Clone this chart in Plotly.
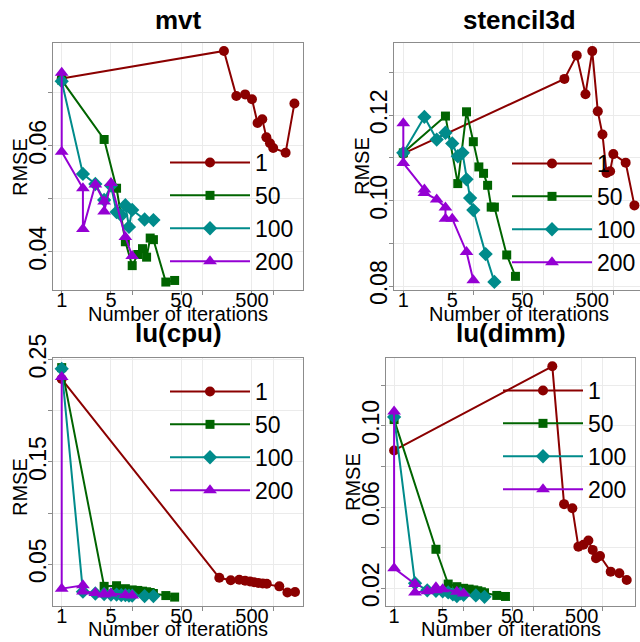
import plotly.graph_objects as go

# ---------------- data ----------------
series_names = ["1", "50", "100", "200"]
colors = ["#8B0000", "#006400", "#008B8B", "#9400D3"]
symbols = ["circle", "square", "diamond", "triangle-up"]
marker_sizes = [10, 9, 11, 12]

iters_50 = [1, 4, 6, 8, 10, 12, 14, 16, 18, 20, 30, 40]
iters_100 = [1, 2, 3, 4, 5, 6, 7, 8, 9, 10, 15, 20]
iters_200 = [1, 1, 2, 2, 3, 4, 4, 5, 8, 10]
iters_1 = [1, 200, 300, 400, 500, 600, 700, 800, 900, 1000, 1500, 2000]

# mvt
mvt_1 = [0.0727, 0.0779, 0.0694, 0.0697, 0.0688, 0.0643, 0.0650, 0.0616, 0.0605, 0.0596, 0.0587, 0.0680]
mvt_50 = [0.0724, 0.0612, 0.0520, 0.0419, 0.0374, 0.0395, 0.0406, 0.0390, 0.0426, 0.0423, 0.0343, 0.0346]
mvt_100 = [0.0722, 0.0547, 0.0528, 0.0498, 0.0525, 0.0475, 0.0469, 0.0488, 0.0447, 0.0479, 0.0461, 0.0460]
mvt_200 = [0.0738, 0.0589, 0.0520, 0.0443, 0.0527, 0.0495, 0.0476, 0.0530, 0.0428, 0.0392]

# stencil3d
st_1 = [0.1110, 0.1285, 0.1340, 0.1249, 0.1350, 0.1209, 0.1155, 0.1065, 0.1069, 0.1109, 0.1089, 0.0989]
st_50 = [0.1112, 0.1198, 0.1040, 0.1208, 0.1138, 0.1079, 0.1064, 0.1036, 0.0985, 0.0985, 0.0873, 0.0823]
st_100 = [0.1112, 0.1196, 0.1143, 0.1159, 0.1134, 0.1104, 0.1112, 0.1050, 0.1006, 0.0978, 0.0875, 0.0810]
st_200 = [0.1181, 0.1088, 0.1026, 0.1018, 0.1003, 0.0984, 0.0958, 0.0958, 0.0880, 0.0814]

# lu(cpu)
cpu_iters_1 = [1, 172, 250, 330, 400, 470, 535, 615, 710, 810, 1220, 1590, 2040]
cpu_1 = [0.2310, 0.0369, 0.0345, 0.0350, 0.0340, 0.0333, 0.0326, 0.0318, 0.0312, 0.0310, 0.0285, 0.0225, 0.0230]
cpu_50 = [0.2422, 0.0285, 0.0291, 0.0262, 0.0250, 0.0245, 0.0238, 0.0232, 0.0225, 0.0215, 0.0195, 0.0180]
cpu_100 = [0.2410, 0.0233, 0.0215, 0.0210, 0.0205, 0.0205, 0.0200, 0.0200, 0.0195, 0.0195, 0.0190, 0.0190]
cpu_200 = [0.2330, 0.0262, 0.0295, 0.0235, 0.0220, 0.0212, 0.0205, 0.0215, 0.0200, 0.0195]

# lu(dimm)
dimm_iters_1 = [1, 189, 279, 367, 448, 529, 624, 720, 804, 918, 1307, 1741, 2223]
dimm_1 = [0.0878, 0.1292, 0.0614, 0.0594, 0.0405, 0.0414, 0.0435, 0.0389, 0.0348, 0.0359, 0.0282, 0.0274, 0.0241]
dimm_50 = [0.1030, 0.0392, 0.0221, 0.0208, 0.0200, 0.0196, 0.0192, 0.0188, 0.0183, 0.0178, 0.0165, 0.0160]
dimm_100 = [0.1043, 0.0225, 0.0190, 0.0188, 0.0185, 0.0180, 0.0170, 0.0162, 0.0175, 0.0168, 0.0165, 0.0158]
dimm_200 = [0.1070, 0.0299, 0.0221, 0.0180, 0.0185, 0.0205, 0.0190, 0.0195, 0.0183, 0.0175]

panel_titles = ["mvt", "stencil3d", "lu(cpu)", "lu(dimm)"]
x_tickvals = [1, 5, 10, 50, 100, 500, 1000]
x_ticktext = ["1", "5", "", "50", "", "500", ""]
y_ticks = [
    ([0.04, 0.05, 0.06, 0.07], ["0.04", "", "0.06", ""]),
    ([0.08, 0.09, 0.10, 0.11, 0.12, 0.13], ["0.08", "", "0.10", "", "0.12", ""]),
    ([0.05, 0.10, 0.15, 0.20, 0.25], ["0.05", "", "0.15", "", "0.25"]),
    ([0.02, 0.04, 0.06, 0.08, 0.10, 0.12], ["0.02", "", "0.06", "", "0.10", ""]),
]

panels = [
    [(iters_1, mvt_1), (iters_50, mvt_50), (iters_100, mvt_100), (iters_200, mvt_200)],
    [(iters_1, st_1), (iters_50, st_50), (iters_100, st_100), (iters_200, st_200)],
    [(cpu_iters_1, cpu_1), (iters_50, cpu_50), (iters_100, cpu_100), (iters_200, cpu_200)],
    [(dimm_iters_1, dimm_1), (iters_50, dimm_50), (iters_100, dimm_100), (iters_200, dimm_200)],
]

# ---------------- layout geometry (pixels) ----------------
W, H = 640, 642
boxes = [  # left, top, right, bottom
    (53, 43, 303, 290),
    (394, 43, 640, 290),
    (53, 358, 303, 606),
    (386, 358, 635, 606),
]
x_ranges = [[-0.1234, 3.4227], [-0.133, 3.381], [-0.1234, 3.4227], [-0.1165, 3.466]]
y_ranges = [[0.0328, 0.0794], [0.0791, 0.1369], [0.0093, 0.2516], [0.0113, 0.1333]]
LEG_W = 80
legend_pos = [(165, 141), (507, 142), (165, 370), (498, 369)]
xtitle_pos = [(177.5, 314), (519, 314), (178, 629), (511, 629)]
ytitle_pos = [(20, 167), (362, 166), (20, 487), (353, 482)]
title_pos = [(178, 20), (519, 20), (178, 333), (511, 333)]

FONT = "Liberation Sans, Arial, sans-serif"
fig = go.Figure()
layout = dict(
    template="none",
    width=W, height=H, margin=dict(l=0, r=0, t=0, b=0, autoexpand=False),
    paper_bgcolor="white", plot_bgcolor="white",
    font=dict(family=FONT, color="black"),
    annotations=[],
)

for p in range(4):
    ax = "" if p == 0 else str(p + 1)
    xa, ya = "x" + ax, "y" + ax
    lg = "legend" if p == 0 else "legend" + str(p + 1)
    for s in range(4):
        xs, ys = panels[p][s]
        fig.add_trace(go.Scatter(
            x=xs, y=ys, mode="lines+markers", name=series_names[s],
            line=dict(color=colors[s], width=2),
            marker=dict(symbol=symbols[s], size=marker_sizes[s], color=colors[s],
                        line=dict(width=0)),
            xaxis=xa, yaxis=ya, legend=lg, showlegend=True,
        ))
    l, t, r, b = boxes[p]
    common = dict(showline=True, mirror=True, linecolor="#8c8c8c", linewidth=1,
                  showgrid=True, gridcolor="#ebebeb", gridwidth=1, zeroline=False,
                  ticks="outside", ticklen=4, tickcolor="#8c8c8c", automargin=False)
    layout["xaxis" + ax] = dict(
        type="log", range=x_ranges[p], domain=[l / W, r / W],
        anchor=ya, tickmode="array", tickvals=x_tickvals, ticktext=x_ticktext,
        ticklabelstandoff=-12,
        tickfont=dict(size=20, family=FONT), **common)
    yv, yt = y_ticks[p]
    layout["yaxis" + ax] = dict(
        range=y_ranges[p], domain=[1 - b / H, 1 - t / H], anchor=xa,
        tickmode="array", tickvals=yv, ticktext=yt, tickangle=-90,
        ticklabelstandoff=-7,
        tickfont=dict(size=23, family=FONT), **common)
    lx, ly = legend_pos[p]
    layout[lg] = dict(x=lx / W, y=1 - ly / H, xanchor="left", yanchor="top",
                      bgcolor="rgba(0,0,0,0)", borderwidth=0,
                      font=dict(size=23, family=FONT), itemwidth=LEG_W,
                      itemsizing="trace", tracegroupgap=0)
    tx, ty = title_pos[p]
    layout["annotations"].append(dict(
        text="<b>" + panel_titles[p] + "</b>", x=tx / W, y=1 - ty / H,
        xref="paper", yref="paper", showarrow=False, xanchor="center", yanchor="middle",
        font=dict(size=26, family=FONT)))
    xx, xy = xtitle_pos[p]
    layout["annotations"].append(dict(
        text="Number of iterations", x=xx / W, y=1 - xy / H,
        xref="paper", yref="paper", showarrow=False, xanchor="center", yanchor="middle",
        font=dict(size=20, family=FONT)))
    yx, yy = ytitle_pos[p]
    layout["annotations"].append(dict(
        text="RMSE", x=yx / W, y=1 - yy / H, textangle=-90,
        xref="paper", yref="paper", showarrow=False, xanchor="center", yanchor="middle",
        font=dict(size=20, family=FONT)))

fig.update_layout(**layout)
fig.write_html("out.html", config={"displayModeBar": False},
               post_script="document.body.style.margin='0px';")
